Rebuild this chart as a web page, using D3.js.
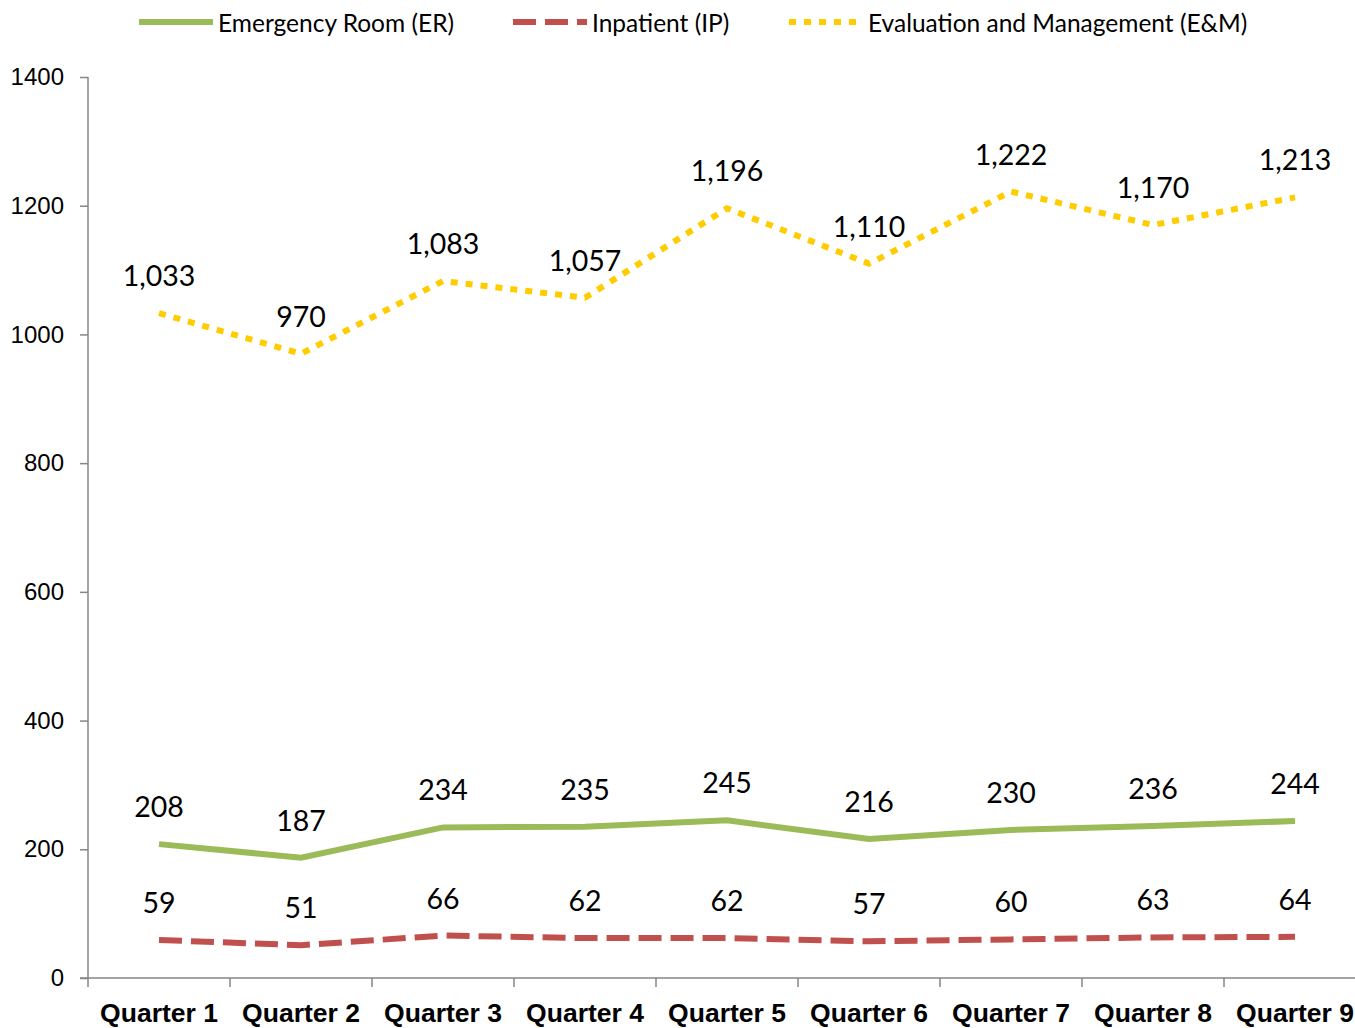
<!DOCTYPE html>
<meta charset="utf-8">
<script src="https://cdn.jsdelivr.net/npm/d3@7"></script>
<style>
    body { margin: 0; background: #fff; }
    svg { display: block; font-family: Lato, "Open Sans", sans-serif; }
    .axis path, .axis line { stroke: #868686; stroke-width: 1.5; }
    .axis text { fill: #000; }
</style>
<body>
<script>
    // chart data
    const quarters = ["Quarter 1", "Quarter 2", "Quarter 3", "Quarter 4", "Quarter 5",
        "Quarter 6", "Quarter 7", "Quarter 8", "Quarter 9"];
    const erValues = [208, 187, 234, 235, 245, 216, 230, 236, 244];
    const ipValues = [59, 51, 66, 62, 62, 57, 60, 63, 64];
    const emValues = [1033, 970, 1083, 1057, 1196, 1110, 1222, 1170, 1213];
    const yTicks = [0, 200, 400, 600, 800, 1000, 1200, 1400];
    const seriesNames = ["Emergency Room (ER)", "Inpatient (IP)", "Evaluation and Management (E&M)"];

    const width = 1355, height = 1028;

    const series = [
        {name: seriesNames[0], values: erValues, color: "#9BBB59", dash: null},
        {name: seriesNames[1], values: ipValues, color: "#C0504D", dash: "23,9"},
        {name: seriesNames[2], values: emValues, color: "#FFCC00", dash: "7,8"}
    ];

    const svg = d3.select("body").append("svg")
        .attr("width", width)
        .attr("height", height);

    const x = d3.scaleBand().domain(quarters).range([88, 1366]);
    const y = d3.scaleLinear().domain([0, 1400]).range([978, 77]);

    // y axis
    const yAxis = svg.append("g")
        .attr("class", "axis")
        .attr("transform", "translate(88,0)")
        .call(d3.axisLeft(y).tickValues(yTicks).tickSize(8).tickPadding(16).tickFormat(d3.format("d")));
    yAxis.selectAll("text").style("font-size", "24px");
    yAxis.select(".domain").attr("d", "M0," + y(1400) + "V" + y(0));

    // x axis (labels only, ticks drawn at band edges)
    const xAxis = svg.append("g")
        .attr("class", "axis")
        .attr("transform", "translate(0," + y(0) + ")")
        .call(d3.axisBottom(x).tickSize(0).tickPadding(25));
    xAxis.select(".domain").attr("d", "M80,0H" + width);
    xAxis.selectAll("text")
        .style("font-size", "26.5px")
        .style("font-weight", "bold");
    xAxis.selectAll(".edge")
        .data(quarters)
        .enter().append("line")
        .attr("x1", d => x(d)).attr("x2", d => x(d))
        .attr("y1", 0).attr("y2", 9);

    const line = d3.line()
        .x((d, i) => x(quarters[i]) + x.bandwidth() / 2)
        .y(d => y(d));

    const fmt = d3.format(",");

    series.forEach(function (s) {
        svg.append("path")
            .datum(s.values)
            .attr("d", line)
            .attr("fill", "none")
            .attr("stroke", s.color)
            .attr("stroke-width", 6)
            .attr("stroke-dasharray", s.dash);

        svg.append("g").selectAll("text")
            .data(s.values)
            .enter().append("text")
            .attr("x", (d, i) => x(quarters[i]) + x.bandwidth() / 2)
            .attr("y", d => y(d) - 27)
            .attr("text-anchor", "middle")
            .style("font-size", "28.5px")
            .text(d => fmt(d));
    });

    // legend
    const legendX = [139, 513, 789];
    const legend = svg.append("g").selectAll("g")
        .data(series)
        .enter().append("g")
        .attr("transform", (d, i) => "translate(" + legendX[i] + ",22)");
    legend.append("line")
        .attr("x1", 0).attr("x2", 74)
        .attr("stroke", d => d.color)
        .attr("stroke-width", 6)
        .attr("stroke-dasharray", d => d.dash);
    legend.append("text")
        .attr("x", 79)
        .attr("y", 9.5)
        .style("font-size", "24.5px")
        .text(d => d.name);
</script>
</body>
</html>
